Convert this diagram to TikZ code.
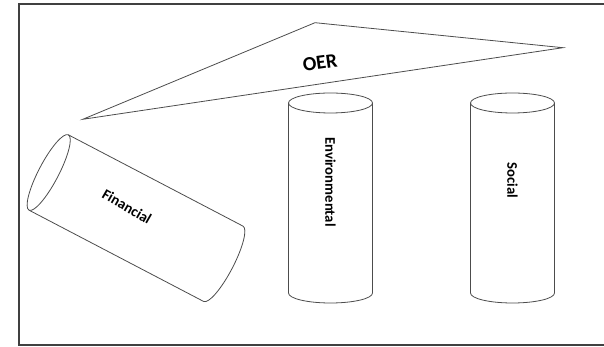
\documentclass[tikz,border=0pt]{standalone}
\usepackage{fontspec}
\setmainfont{Carlito}
\begin{document}
\begin{tikzpicture}[x=1pt,y=1pt,
  shapeline/.style={draw=black!70, line width=0.8pt},
  pillarlabel/.style={font=\bfseries\fontsize{14.7}{16}\selectfont, inner sep=0pt},
  framebox/.style={draw=black!75, line width=1.4pt}]
\useasboundingbox (0,0) rectangle (604,347);
% outer frame (right side runs off the page)
\draw[framebox] (19,2) rectangle (608,343);

% OER roof
\coordinate (roofTop) at (315,324.3);
\coordinate (roofRight) at (563,299.3);
\coordinate (roofLeft) at (82.8,227.7);
\draw[shapeline, line join=miter] (roofTop) -- (roofRight) -- (roofLeft) -- cycle;
\node[font=\bfseries\fontsize{20}{22}\selectfont, rotate=8, inner sep=0pt] (oer) at (320,284.3) {OER};

% Environmental pillar
\begin{scope}[shift={(330.5,0)}]
  \draw[shapeline] (0,244) ellipse [x radius=42pt, y radius=10pt];
  \draw[shapeline] (-42,244) -- (-42,54) arc [start angle=180, end angle=360, x radius=42pt, y radius=10pt] -- (42,244);
\end{scope}
\node[pillarlabel, rotate=-90] (env) at (330.5,165) {Environmental};

% Social pillar
\begin{scope}[shift={(512.5,0)}]
  \draw[shapeline] (0,244) ellipse [x radius=42pt, y radius=10pt];
  \draw[shapeline] (-42,244) -- (-42,54) arc [start angle=180, end angle=360, x radius=42pt, y radius=10pt] -- (42,244);
\end{scope}
\node[pillarlabel, rotate=-90] (soc) at (512.5,166.5) {Social};

% Financial pillar, fallen over
\begin{scope}[shift={(48.7,174.5)}, rotate=-27.6]
  \draw[shapeline] (0,0) ellipse [x radius=10pt, y radius=42.5pt];
  \draw[shapeline] (0,42.5) -- (197,42.5) arc [start angle=90, end angle=-90, x radius=10pt, y radius=42.5pt] -- (0,-42.5);
\end{scope}
\node[pillarlabel, rotate=-30] (fin) at (127,140.3) {Financial};
\end{tikzpicture}
\end{document}
